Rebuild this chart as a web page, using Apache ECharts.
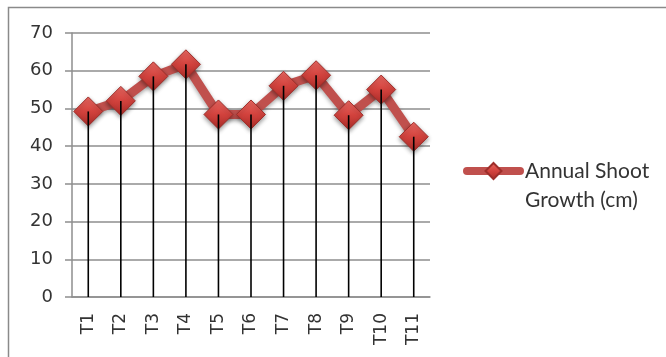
<!DOCTYPE html>
<html>
<head>
<meta charset="utf-8">
<script src="https://cdn.jsdelivr.net/npm/echarts@6/dist/echarts.min.js"></script>
<style>
  html, body { margin: 0; padding: 0; background: #fff; }
  #chart { width: 666px; height: 357px; }
</style>
</head>
<body>
<div id="chart"></div>
<script>
// Treatments on the category axis
const categories = ['T1', 'T2', 'T3', 'T4', 'T5', 'T6', 'T7', 'T8', 'T9', 'T10', 'T11'];
// Annual shoot growth per treatment (cm)
const growth = [49.2, 52, 58.5, 61.7, 48.4, 48.4, 56, 58.8, 48.2, 55, 42.5];
// Value axis range and step
const yMin = 0;
const yMax = 70;
const yStep = 10;
const seriesName = 'Annual Shoot Growth (cm)';

const chart = echarts.init(document.getElementById('chart'), null, { renderer: 'canvas' });

const gridColor = '#8e8e8e';
const textColor = '#333333';

chart.setOption({
  animation: false,
  backgroundColor: '#fff',
  graphic: [{
    type: 'rect',
    z: -10,
    shape: { x: 8.5, y: 7.5, width: 700, height: 400 },
    style: { fill: 'none', stroke: '#8a8a8a', lineWidth: 1.5 }
  }],
  grid: { left: 72, right: 236, top: 33, bottom: 60 },
  legend: {
    data: [seriesName],
    left: 463,
    top: 127.5,
    padding: 0,
    itemWidth: 53,
    itemHeight: 20,
    // leading blank line keeps the first text line level with the icon
    formatter: () => '\nAnnual Shoot\nGrowth (cm)',
    lineStyle: { width: 8, color: '#C0504D', cap: 'round' },
    textStyle: {
      fontFamily: 'Lato',
      fontSize: 21,
      color: textColor,
      lineHeight: 29
    }
  },
  xAxis: {
    type: 'category',
    data: categories,
    boundaryGap: true,
    axisLine: { lineStyle: { color: gridColor, width: 1.5 } },
    axisTick: { show: false },
    axisLabel: {
      rotate: 90,
      margin: 16,
      fontFamily: 'DejaVu Sans',
      fontSize: 17,
      color: textColor
    },
    splitLine: { show: false }
  },
  yAxis: {
    type: 'value',
    min: yMin,
    max: yMax,
    interval: yStep,
    axisLine: { show: true, lineStyle: { color: gridColor, width: 1.5 } },
    axisTick: { show: true, length: 7, lineStyle: { color: gridColor, width: 1.5 } },
    axisLabel: {
      margin: 19,
      fontFamily: 'DejaVu Sans',
      fontSize: 18,
      color: textColor
    },
    splitLine: { lineStyle: { color: gridColor, width: 1.5 } }
  },
  series: [
    {
      name: seriesName,
      type: 'line',
      data: growth,
      z: 2,
      symbol: 'diamond',
      symbolSize: 29,
      lineStyle: {
        color: '#C0504D',
        width: 9,
        shadowBlur: 4,
        shadowColor: 'rgba(0,0,0,0.35)',
        shadowOffsetY: 2
      },
      itemStyle: {
        color: new echarts.graphic.LinearGradient(0, 0, 0, 1, [
          { offset: 0, color: '#EE6A64' },
          { offset: 0.5, color: '#D2423D' },
          { offset: 1, color: '#A92C28' }
        ]),
        borderColor: '#9E2E2A',
        borderWidth: 1,
        shadowBlur: 4,
        shadowColor: 'rgba(0,0,0,0.4)',
        shadowOffsetY: 2
      },
      emphasis: { disabled: true }
    },
    {
      // Drop lines from each point down to the category axis
      name: 'drop',
      type: 'custom',
      z: 5,
      silent: true,
      data: growth.map((v, i) => [i, v]),
      renderItem: (params, api) => {
        const top = api.coord([api.value(0), api.value(1)]);
        const bottom = api.coord([api.value(0), yMin]);
        return {
          type: 'line',
          shape: { x1: top[0], y1: top[1], x2: bottom[0], y2: bottom[1] },
          style: { stroke: '#000', lineWidth: 1.6 }
        };
      }
    }
  ]
});
</script>
</body>
</html>
